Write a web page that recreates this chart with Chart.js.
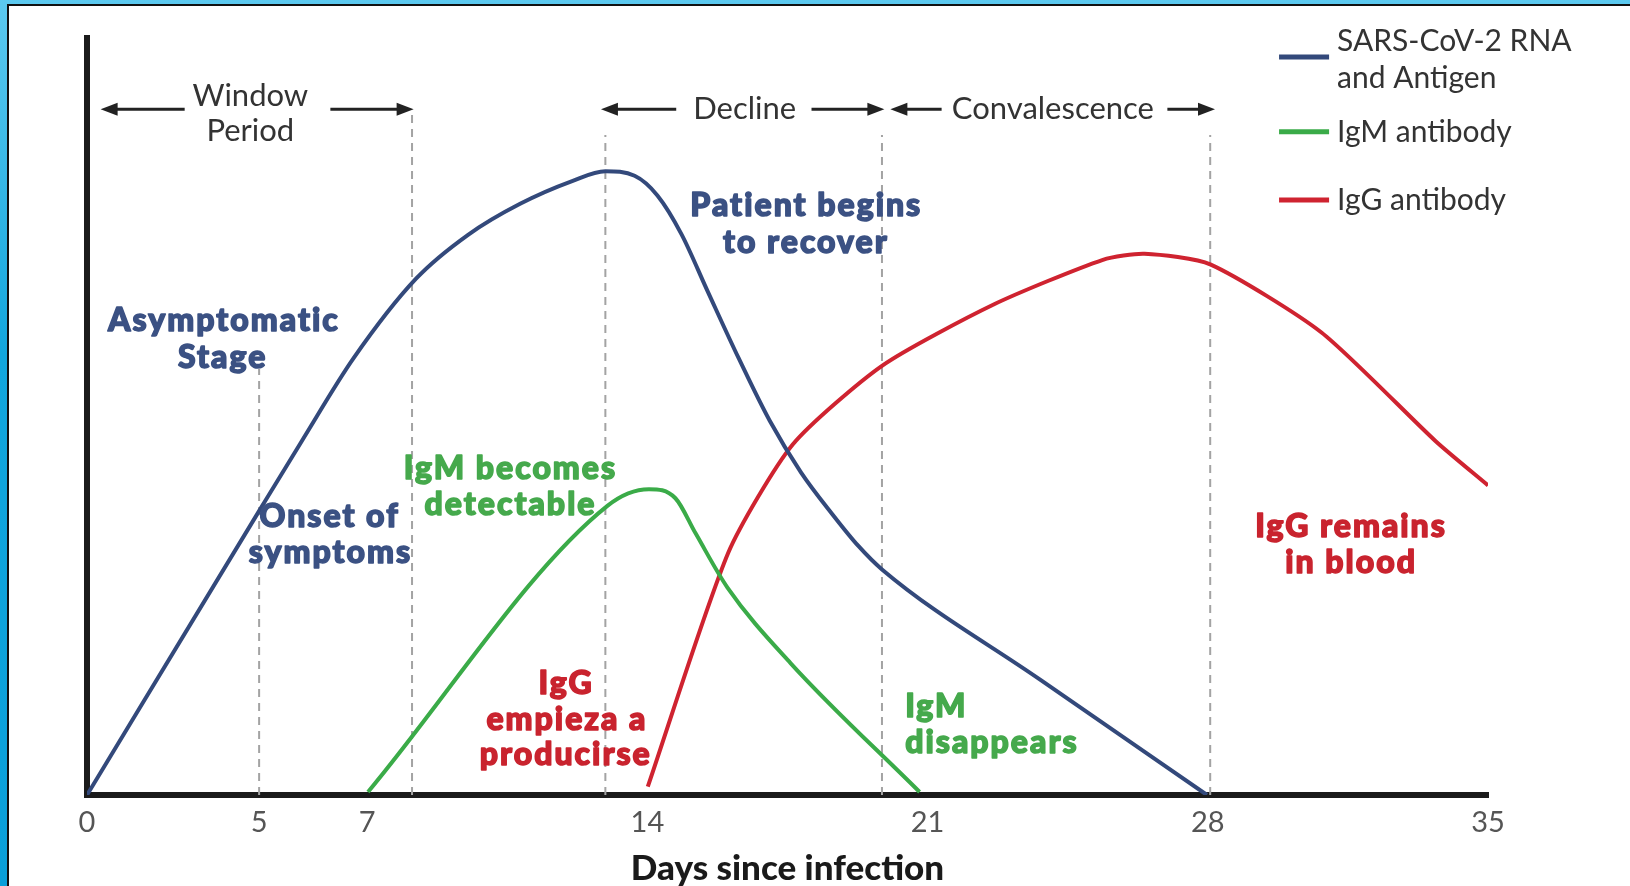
<!DOCTYPE html>
<html>
<head>
<meta charset="utf-8">
<script src="https://cdn.jsdelivr.net/npm/chart.js@4.4.1/dist/chart.umd.min.js"></script>
<style>
  body { margin: 0; width: 1630px; height: 886px; overflow: hidden;
         background: linear-gradient(to bottom, #5cc9ef 0%, #12a6dd 40%, #0a9fd9 100%); }
  #panel { position: absolute; left: 7px; top: 4px; width: 1621px; height: 880px;
           background: #fff; border-left: 2px solid #111; border-top: 2px solid #111; }
</style>
</head>
<body>
<div id="panel"><canvas id="diagram" width="1621" height="880"></canvas></div>
<script>
// Days since infection and relative levels
const rnaDays  = [0, 4.32, 5.36, 6.66, 8.22, 9.52, 10.82, 12.12, 12.95, 13.68, 14.25, 14.85, 15.5, 16.28, 17.06, 17.84, 18.62, 19.27, 19.86, 23.82, 27.98];
const rnaLevel = [0, 37.7, 46.7, 57.7, 68.2, 74.0, 78.1, 81.1, 82.4, 81.8, 79.2, 74.1, 66.6, 57.7, 49.4, 42.6, 37.1, 32.9, 29.8, 15.2, 0];

const igmDays  = [7.02, 13.0, 14.04, 14.7, 15.2, 16.0, 17.58, 20.8];
const igmLevel = [0.4, 38.2, 40.4, 39.2, 34.6, 27.4, 17.4, 0.4];

const iggDays  = [14.01, 16.02, 17.63, 19.86, 22.65, 25.38, 26.42, 28.06, 30.84, 33.7, 35.0];
const iggLevel = [1.1, 32.0, 46.3, 56.7, 64.8, 70.7, 71.5, 70.1, 61.1, 46.7, 40.9];

const seriesNames = ['SARS-CoV-2 RNA\nand Antigen', 'IgM antibody', 'IgG antibody'];

// dashed phase markers: day and how high each one reaches
const phaseDays = [4.3, 8.12, 12.95, 19.86, 28.06];
const phaseTops = [56.3, 90.2, 87.2, 87.2, 87.2];

// x axis tick positions and what they read
const tickDays   = [0, 4.3, 7, 14, 21, 28, 35];
const tickLabels = ['0', '5', '7', '14', '21', '28', '35'];

const BLUE = '#33497b', GREEN = '#3aab48', RED = '#cf2330';

const xy = (days, vals) => days.map((d, i) => ({ x: d, y: vals[i] }));

const datasets = [
    { label: seriesNames[0], data: xy(rnaDays, rnaLevel), borderColor: BLUE, cubicInterpolationMode: 'monotone' },
    { label: seriesNames[1], data: xy(igmDays, igmLevel), borderColor: GREEN, cubicInterpolationMode: 'monotone' },
    { label: seriesNames[2], data: xy(iggDays, iggLevel), borderColor: RED, tension: 0.22 }
].map(ds => Object.assign(ds, { borderWidth: 4, pointRadius: 0, fill: false, order: 1 }));

phaseDays.forEach((d, i) => {
    datasets.push({
        label: 'phase' + i,
        data: [{ x: d, y: 0 }, { x: d, y: phaseTops[i] }],
        borderColor: '#a3a3a3', borderWidth: 2, borderDash: [8, 6],
        pointRadius: 0, order: 5
    });
});

// annotation texts, positioned in data units
const notes = [
    { t: 'Window', d: 4.08, v: 92.4, k: 'plain' },
    { t: 'Period', d: 4.08, v: 87.7, k: 'plain' },
    { t: 'Decline', d: 16.43, v: 90.6, k: 'plain' },
    { t: 'Convalescence', d: 24.13, v: 90.6, k: 'plain' },
    { t: 'Asymptomatic', d: 3.42, v: 62.6, k: 'blue' },
    { t: 'Stage', d: 3.39, v: 57.8, k: 'blue' },
    { t: 'Patient begins', d: 17.97, v: 77.8, k: 'blue' },
    { t: 'to recover', d: 17.96, v: 73.0, k: 'blue' },
    { t: 'Onset of', d: 6.06, v: 36.8, k: 'blue' },
    { t: 'symptoms', d: 6.08, v: 32.0, k: 'blue' },
    { t: 'IgM becomes', d: 10.58, v: 43.1, k: 'green' },
    { t: 'detectable', d: 10.58, v: 38.4, k: 'green' },
    { t: 'IgG', d: 11.97, v: 14.7, k: 'red' },
    { t: 'empieza a', d: 11.99, v: 10.0, k: 'red' },
    { t: 'producirse', d: 11.96, v: 5.35, k: 'red' },
    { t: 'IgM', d: 20.44, v: 11.7, k: 'green', align: 'left' },
    { t: 'disappears', d: 20.44, v: 6.9, k: 'green', align: 'left' },
    { t: 'IgG remains', d: 31.58, v: 35.4, k: 'red' },
    { t: 'in blood', d: 31.58, v: 30.7, k: 'red' }
];

const BOLD = '900 32px "Lato Black", Lato';
const noteStyles = {
    plain: { font: '400 31px Lato', color: '#333', spacing: '0px' },
    blue:  { font: BOLD, color: '#3b5183', spacing: '2px', stroke: 1.5 },
    green: { font: BOLD, color: '#45a94c', spacing: '2px', stroke: 1.5 },
    red:   { font: BOLD, color: '#c9232e', spacing: '2px', stroke: 1.5 }
};

// phase arrows: [tail day, head day], all at the same height
const arrows = [[2.44, 0.34], [6.08, 8.16], [14.72, 12.84], [18.1, 19.92], [21.35, 20.07], [26.99, 28.18]];
const arrowLevel = 90.6;

function drawText(ctx, txt, x, y, st, align) {
    ctx.save();
    ctx.font = st.font;
    ctx.fillStyle = st.color;
    ctx.textAlign = align || 'center';
    ctx.textBaseline = 'middle';
    ctx.letterSpacing = st.spacing;
    if (st.stroke) {
        ctx.strokeStyle = st.color;
        ctx.lineWidth = st.stroke;
        ctx.lineJoin = 'round';
        ctx.strokeText(txt, x, y);
    }
    ctx.fillText(txt, x, y);
    ctx.restore();
}

const decorations = {
    id: 'decorations',
    afterDatasetsDraw(chart) {
        const ctx = chart.ctx;
        const sx = chart.scales.x, sy = chart.scales.y;
        const px = d => sx.getPixelForValue(d), py = v => sy.getPixelForValue(v);

        // arrows
        ctx.save();
        ctx.strokeStyle = '#222';
        ctx.fillStyle = '#222';
        ctx.lineWidth = 3;
        arrows.forEach(([tail, head]) => {
            const x1 = px(tail), x2 = px(head), y = py(arrowLevel);
            const dir = x2 > x1 ? 1 : -1;
            ctx.beginPath();
            ctx.moveTo(x1, y);
            ctx.lineTo(x2 - dir * 12, y);
            ctx.stroke();
            ctx.beginPath();
            ctx.moveTo(x2, y);
            ctx.lineTo(x2 - dir * 17, y - 6.5);
            ctx.lineTo(x2 - dir * 17, y + 6.5);
            ctx.closePath();
            ctx.fill();
        });
        ctx.restore();

        notes.forEach(n => drawText(ctx, n.t, px(n.d), py(n.v), noteStyles[n.k], n.align));

        // legend
        const legendRows = [[97.5, [99.5, 94.7]], [87.6, [87.6]], [78.6, [78.6]]];
        const legendStyle = { font: '400 30px Lato', color: '#333', spacing: '0px' };
        legendRows.forEach(([lineV, textVs], i) => {
            const ds = chart.data.datasets[i];
            ctx.save();
            ctx.strokeStyle = ds.borderColor;
            ctx.lineWidth = 5;
            ctx.beginPath();
            ctx.moveTo(px(29.78), py(lineV));
            ctx.lineTo(px(31.03), py(lineV));
            ctx.stroke();
            ctx.restore();
            ds.label.split('\n').forEach((line, j) =>
                drawText(ctx, line, px(31.23), py(textVs[j]), legendStyle, 'left'));
        });
    }
};

new Chart(document.getElementById('diagram'), {
    type: 'line',
    data: { datasets },
    options: {
        responsive: false,
        animation: false,
        layout: { padding: { top: 32, right: 142, left: 0, bottom: 0 } },
        plugins: { legend: { display: false }, tooltip: { enabled: false } },
        scales: {
            x: {
                type: 'linear', min: 0, max: 35,
                grid: { display: false, drawTicks: false },
                border: { display: true, color: '#1b1b1b', width: 6 },
                afterBuildTicks: s => { s.ticks = tickDays.map(v => ({ value: v })); },
                afterFit: s => { s.height = 91; },
                ticks: {
                    autoSkip: false, maxRotation: 0, padding: 10,
                    color: '#555', font: { family: 'Lato', size: 29 },
                    callback: (v, i) => tickLabels[i]
                },
                title: {
                    display: true, text: 'Days since infection', color: '#1a1a1a',
                    font: { family: '"Lato Black", Lato', size: 35, weight: '900', lineHeight: 1 },
                    padding: { top: 0, bottom: 0 }
                }
            },
            y: {
                type: 'linear', min: 0, max: 100,
                grid: { display: false, drawTicks: false },
                border: { display: true, color: '#1b1b1b', width: 6 },
                ticks: { display: false },
                afterFit: s => { s.width = 78; }
            }
        }
    },
    plugins: [decorations]
});
</script>
</body>
</html>
